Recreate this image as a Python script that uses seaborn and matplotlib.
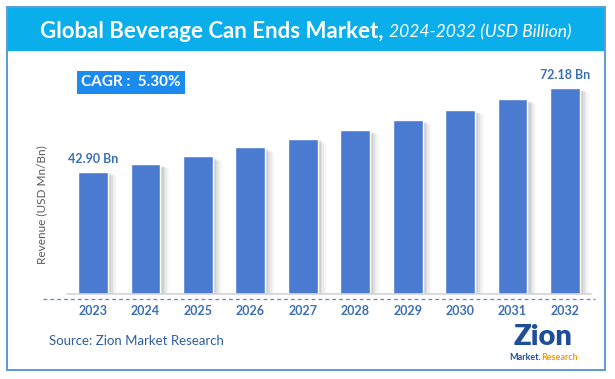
import matplotlib
matplotlib.use("Agg")
import matplotlib.pyplot as plt
from matplotlib.patches import Rectangle
from matplotlib.lines import Line2D
import seaborn as sns
import pandas as pd

# data
years = ["2023", "2024", "2025", "2026", "2027", "2028", "2029", "2030", "2031", "2032"]
revenue = [42.90, 45.6, 48.3, 51.4, 54.5, 57.5, 61.0, 64.5, 68.3, 72.18]
label_years = ["2023", "2032"]

title_main = "Global Beverage Can Ends Market,"
title_sub = "2024-2032 (USD Billion)"
cagr_text = "CAGR :  5.30%"
y_title = "Revenue (USD Mn/Bn)"
source = "Source: Zion Market Research"

bar_color = "#4B7BD1"
label_color = "#3B6FB6"

sns.set_theme(style="white")
plt.rcParams["font.family"] = ["Lato", "DejaVu Sans"]

W, H = 615, 379
fig = plt.figure(figsize=(W / 100, H / 100), dpi=100)
fig.patch.set_facecolor("white")

def fx(px):
    return px / W

def fy(py):
    return 1 - py / H

# frame and header band
fig.add_artist(Rectangle((fx(7), fy(370)), fx(605) - fx(7), fy(7) - fy(370),
                         transform=fig.transFigure, fill=False,
                         edgecolor="#5B9BD5", linewidth=1.4))
fig.add_artist(Rectangle((fx(8), fy(51)), fx(604) - fx(8), fy(8) - fy(51),
                         transform=fig.transFigure, facecolor="#0AAEEB",
                         edgecolor="none"))
fig.text(fx(384), fy(31), title_main, color="white", fontsize=16,
         fontweight="bold", ha="right", va="center")
fig.text(fx(389), fy(32), title_sub, color="white", fontsize=12.6,
         style="italic", ha="left", va="center")

# CAGR badge
fig.add_artist(Rectangle((fx(77), fy(94)), fx(185) - fx(77), fy(71) - fy(94),
                         transform=fig.transFigure, facecolor="#1C8BF0",
                         edgecolor="none"))
fig.text(fx(131), fy(82.5), cagr_text, color="white", fontsize=11,
         fontweight="bold", ha="center", va="center")

# bar area
ax = fig.add_axes([fx(66.8), fy(294.3), fx(591.2) - fx(66.8), fy(65.7) - fy(294.3)])
df = pd.DataFrame({"year": years, "revenue": revenue})

# soft shadow to the right of each bar
for i, a in enumerate([0.10, 0.08, 0.06, 0.04, 0.02]):
    ax.bar([k + 0.06 + i * 0.03 for k in range(len(years))],
           [v - 0.6 - i * 0.3 for v in revenue], width=0.57,
           color="#555555", alpha=a, linewidth=0, zorder=1)

sns.barplot(data=df, x="year", y="revenue", color=bar_color, width=0.57,
            saturation=1, ax=ax, zorder=2)

for k, (yr, v) in enumerate(zip(years, revenue)):
    if yr in label_years:
        ax.text(k, v + 2.5, f"{v:.2f} Bn", color=label_color, fontsize=9,
                fontweight="bold", ha="center", va="bottom")

ax.set_xlim(-0.5, len(years) - 0.5)
ax.set_ylim(0, 80)
ax.set_xlabel("")
ax.set_ylabel("")
ax.set_yticks([])
ax.tick_params(axis="x", length=0, pad=8, labelsize=9, labelcolor=label_color)
for t in ax.get_xticklabels():
    t.set_fontweight("bold")
for s in ["top", "right", "left"]:
    ax.spines[s].set_visible(False)
ax.spines["bottom"].set_color("#D4D4D4")
ax.spines["bottom"].set_linewidth(1.2)
ax.patch.set_alpha(0)

# dashed separator under the axis
fig.add_artist(Line2D([fx(43), fx(595)], [fy(298.5), fy(298.5)],
                      transform=fig.transFigure, color="#5B86CF",
                      linewidth=0.9, linestyle=(0, (3, 2.5))))

fig.text(fx(42), fy(205), y_title, color="#595959", fontsize=8.5,
         rotation=90, ha="center", va="center")
fig.text(fx(49), fy(341), source, color="#2F5E9E", fontsize=9.5,
         ha="left", va="center")

# logo
fig.text(fx(543), fy(337), "Zion", color="#1F4E99", fontsize=21,
         fontweight="heavy", ha="center", va="center")
fig.text(fx(541), fy(357), "Market.", color="#1F4E99", fontsize=6.5,
         fontweight="bold", ha="right", va="center")
fig.text(fx(541), fy(357), "Research", color="#F39C12", fontsize=6.5,
         fontweight="bold", ha="left", va="center")

fig.savefig("out.png", dpi=100)
